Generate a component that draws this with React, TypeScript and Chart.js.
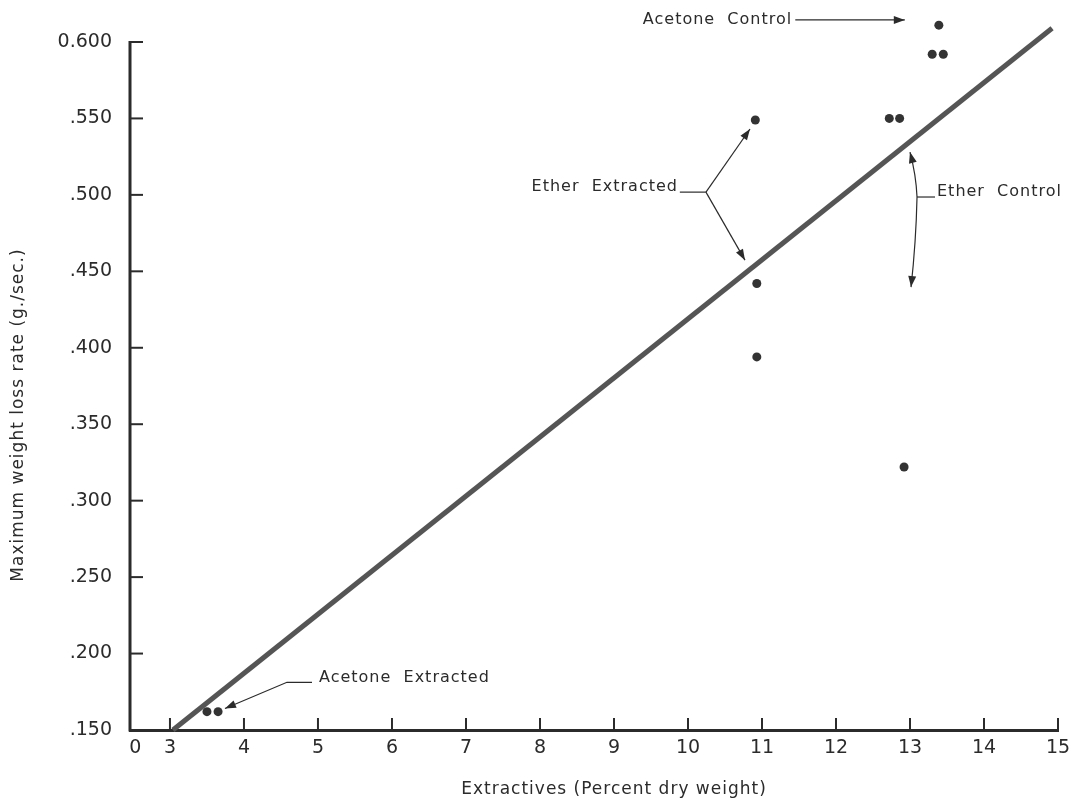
import { useEffect, useRef } from "react";
import { Chart, registerables } from "chart.js";

Chart.register(...registerables);

// ---- data ----
const acetoneControlX = [13.39, 13.3, 13.45];
const acetoneControlY = [0.611, 0.592, 0.592];
const etherControlX = [12.72, 12.86, 12.92];
const etherControlY = [0.55, 0.55, 0.322];
const etherExtractedX = [10.91, 10.93, 10.93];
const etherExtractedY = [0.549, 0.442, 0.394];
const acetoneExtractedX = [3.5, 3.65];
const acetoneExtractedY = [0.162, 0.162];
const fitX = [3.04, 14.92];
const fitY = [0.15, 0.609];

const xTickValues = [2.53, 3, 4, 5, 6, 7, 8, 9, 10, 11, 12, 13, 14, 15];
const xTickLabels = ["0", "3", "4", "5", "6", "7", "8", "9", "10", "11", "12", "13", "14", "15"];
const yTickValues = [0.15, 0.2, 0.25, 0.3, 0.35, 0.4, 0.45, 0.5, 0.55, 0.6];
const yTickLabels = [".150", ".200", ".250", ".300", ".350", ".400", ".450", ".500", ".550", "0.600"];
const yAxisTop = 0.6;

const xTitle = "Extractives (Percent dry weight)";
const yTitle = "Maximum weight loss rate (g./sec.)";

// annotation anchors, in data units
const labelAcetoneControl = { text: "Acetone  Control", x: 9.39, y: 0.6144, arrowFrom: [11.45, 0.6144], arrowTo: [12.93, 0.6144] };
const labelEtherExtracted = { text: "Ether  Extracted", x: 9.865, y: 0.5051, lineFrom: [9.89, 0.5018], joint: [10.243, 0.5018], tips: [[10.838, 0.5431], [10.77, 0.4573]] };
const labelEtherControl = { text: "Ether  Control", x: 13.365, y: 0.5018, lineFrom: [13.338, 0.4986], joint: [13.095, 0.4986], tips: [[13.0, 0.528], [13.014, 0.4397]] };
const labelAcetoneExtracted = { text: "Acetone  Extracted", x: 5.014, y: 0.1844, lineFrom: [4.919, 0.1812], joint: [4.581, 0.1812], tip: [3.743, 0.1641] };

const INK = "#2b2b2b";
const FONT = "DejaVu Sans";

function toPts(xs: number[], ys: number[]) {
  return xs.map((x, i) => ({ x, y: ys[i] }));
}

function arrowHead(ctx: CanvasRenderingContext2D, x0: number, y0: number, x1: number, y1: number) {
  const a = Math.atan2(y1 - y0, x1 - x0);
  const len = 11;
  const w = 4;
  ctx.beginPath();
  ctx.moveTo(x1, y1);
  ctx.lineTo(x1 - len * Math.cos(a) + w * Math.sin(a), y1 - len * Math.sin(a) - w * Math.cos(a));
  ctx.lineTo(x1 - len * Math.cos(a) - w * Math.sin(a), y1 - len * Math.sin(a) + w * Math.cos(a));
  ctx.closePath();
  ctx.fill();
}

function zeroPadding(axis: any) {
  axis.paddingTop = 0;
  axis.paddingBottom = 0;
  axis.paddingLeft = 0;
  axis.paddingRight = 0;
}

const decorPlugin = {
  id: "decor",
  beforeDraw(chart: any) {
    const ctx = chart.ctx;
    ctx.save();
    ctx.fillStyle = "#ffffff";
    ctx.fillRect(0, 0, chart.width, chart.height);
    ctx.restore();
  },
  afterDraw(chart: any) {
    const ctx: CanvasRenderingContext2D = chart.ctx;
    const xs = chart.scales.x;
    const ys = chart.scales.y;
    const px = (v: number) => xs.getPixelForValue(v);
    const py = (v: number) => ys.getPixelForValue(v);
    const area = chart.chartArea;
    ctx.save();
    ctx.strokeStyle = INK;
    ctx.fillStyle = INK;
    // y axis line (stops at the top tick)
    ctx.lineWidth = 3;
    ctx.beginPath();
    ctx.moveTo(area.left, py(yAxisTop) - 1);
    ctx.lineTo(area.left, area.bottom + 1.5);
    ctx.stroke();
    // inward tick marks
    ctx.lineWidth = 2;
    xTickValues.forEach((v, i) => {
      if (xTickLabels[i] === "0") return;
      const x = px(v);
      ctx.beginPath();
      ctx.moveTo(x, area.bottom);
      ctx.lineTo(x, area.bottom - 12);
      ctx.stroke();
    });
    yTickValues.forEach((v) => {
      const y = py(v);
      ctx.beginPath();
      ctx.moveTo(area.left, y);
      ctx.lineTo(area.left + 13, y);
      ctx.stroke();
    });

    // axis titles
    (ctx as any).letterSpacing = "1px";
    ctx.font = `17px "${FONT}"`;
    ctx.textBaseline = "middle";
    ctx.textAlign = "center";
    ctx.fillText(xTitle, 614, 790);
    ctx.save();
    ctx.translate(19, 415);
    ctx.rotate(-Math.PI / 2);
    ctx.fillText(yTitle, 0, 0);
    ctx.restore();

    // annotations
    ctx.font = `16px "${FONT}"`;
    ctx.lineWidth = 1.2;
    // Acetone Control
    ctx.textAlign = "left";
    ctx.fillText(labelAcetoneControl.text, px(labelAcetoneControl.x), py(labelAcetoneControl.y));
    {
      const [ax, ay] = labelAcetoneControl.arrowFrom;
      const [bx, by] = labelAcetoneControl.arrowTo;
      ctx.beginPath();
      ctx.moveTo(px(ax), py(ay));
      ctx.lineTo(px(bx), py(by));
      ctx.stroke();
      arrowHead(ctx, px(ax), py(ay), px(bx), py(by));
    }
    // Ether Extracted
    ctx.textAlign = "right";
    ctx.fillText(labelEtherExtracted.text, px(labelEtherExtracted.x), py(labelEtherExtracted.y));
    {
      const j = labelEtherExtracted.joint;
      const f = labelEtherExtracted.lineFrom;
      ctx.beginPath();
      ctx.moveTo(px(f[0]), py(f[1]));
      ctx.lineTo(px(j[0]), py(j[1]));
      ctx.stroke();
      labelEtherExtracted.tips.forEach((t) => {
        ctx.beginPath();
        ctx.moveTo(px(j[0]), py(j[1]));
        ctx.lineTo(px(t[0]), py(t[1]));
        ctx.stroke();
        arrowHead(ctx, px(j[0]), py(j[1]), px(t[0]), py(t[1]));
      });
    }
    // Ether Control
    ctx.textAlign = "left";
    ctx.fillText(labelEtherControl.text, px(labelEtherControl.x), py(labelEtherControl.y));
    {
      const j = labelEtherControl.joint;
      const f = labelEtherControl.lineFrom;
      ctx.beginPath();
      ctx.moveTo(px(f[0]), py(f[1]));
      ctx.lineTo(px(j[0]), py(j[1]));
      ctx.stroke();
      labelEtherControl.tips.forEach((t) => {
        const jx = px(j[0]);
        const jy = py(j[1]);
        const tx = px(t[0]);
        const ty = py(t[1]);
        ctx.beginPath();
        ctx.moveTo(jx, jy);
        ctx.quadraticCurveTo(jx - 1, (jy + ty) / 2, tx, ty);
        ctx.stroke();
        arrowHead(ctx, jx - 1, (jy + ty) / 2, tx, ty);
      });
    }
    // Acetone Extracted
    ctx.fillText(labelAcetoneExtracted.text, px(labelAcetoneExtracted.x), py(labelAcetoneExtracted.y));
    {
      const j = labelAcetoneExtracted.joint;
      const f = labelAcetoneExtracted.lineFrom;
      const t = labelAcetoneExtracted.tip;
      ctx.beginPath();
      ctx.moveTo(px(f[0]), py(f[1]));
      ctx.lineTo(px(j[0]), py(j[1]));
      ctx.lineTo(px(t[0]), py(t[1]));
      ctx.stroke();
      arrowHead(ctx, px(j[0]), py(j[1]), px(t[0]), py(t[1]));
    }
    ctx.restore();
  },
};

export default function App() {
  const ref = useRef<HTMLCanvasElement | null>(null);
  useEffect(() => {
    if (!ref.current) return;
    const pointStyle = {
      type: "scatter" as const,
      pointRadius: 4.5,
      pointHoverRadius: 4.5,
      pointBackgroundColor: "#333333",
      pointBorderWidth: 0,
      showLine: false,
      clip: false as any,
    };
    const chart = new Chart(ref.current, {
      type: "scatter",
      data: {
        datasets: [
          {
            type: "line",
            label: "Fit",
            data: toPts(fitX, fitY),
            borderColor: "#555555",
            borderWidth: 5,
            pointRadius: 0,
            clip: false as any,
          } as any,
          { ...pointStyle, label: "Acetone Control", data: toPts(acetoneControlX, acetoneControlY) },
          { ...pointStyle, label: "Ether Control", data: toPts(etherControlX, etherControlY) },
          { ...pointStyle, label: "Ether Extracted", data: toPts(etherExtractedX, etherExtractedY) },
          { ...pointStyle, label: "Acetone Extracted", data: toPts(acetoneExtractedX, acetoneExtractedY) },
        ],
      },
      options: {
        animation: false,
        responsive: false,
        events: [],
        layout: { padding: { top: 11.4, right: 15, left: 0, bottom: 0 } },
        plugins: { legend: { display: false }, tooltip: { enabled: false } },
        scales: {
          x: {
            type: "linear",
            min: 2.46,
            max: 15,
            afterBuildTicks: (axis: any) => {
              axis.ticks = xTickValues.map((v) => ({ value: v }));
            },
            afterFit: (axis: any) => {
              axis.height = 72;
              zeroPadding(axis);
            },
            ticks: {
              autoSkip: false,
              maxRotation: 0,
              padding: 7,
              color: INK,
              font: { family: FONT, size: 19 },
              callback: (v: any) => {
                const i = xTickValues.indexOf(Number(v));
                return i >= 0 ? xTickLabels[i] : "";
              },
            },
            grid: { display: true, drawOnChartArea: false, drawTicks: false },
            border: { display: true, color: INK, width: 3 },
          },
          y: {
            type: "linear",
            min: 0.15,
            max: 0.62,
            afterBuildTicks: (axis: any) => {
              axis.ticks = yTickValues.map((v) => ({ value: v }));
            },
            afterFit: (axis: any) => {
              axis.width = 130;
              zeroPadding(axis);
            },
            ticks: {
              autoSkip: false,
              padding: 18,
              color: INK,
              font: { family: FONT, size: 19 },
              callback: (v: any) => {
                const i = yTickValues.findIndex((t) => Math.abs(t - Number(v)) < 1e-9);
                return i >= 0 ? yTickLabels[i] : "";
              },
            },
            grid: { display: true, drawOnChartArea: false, drawTicks: false },
            border: { display: false },
          },
        },
      },
      plugins: [decorPlugin],
    } as any);
    return () => chart.destroy();
  }, []);
  return (
    <div style={{ position: "fixed", left: 0, top: 0, width: 1073, height: 802, background: "#fff" }}>
      <canvas ref={ref} width={1073} height={802} style={{ display: "block", width: 1073, height: 802 }} />
    </div>
  );
}
